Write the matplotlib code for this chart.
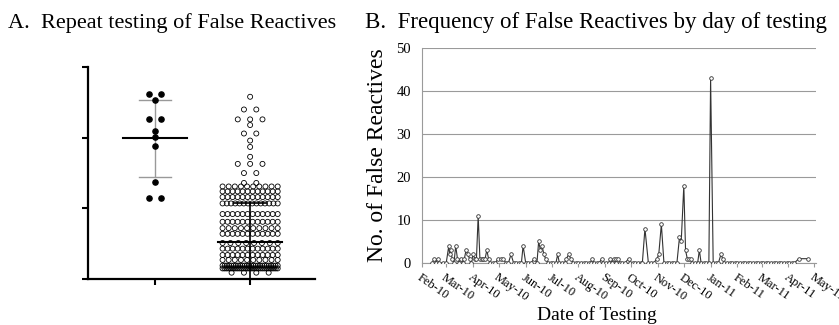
import numpy as np
import matplotlib
matplotlib.use('Agg')
import matplotlib.pyplot as plt
import matplotlib.dates as mdates

plt.rcParams['font.family'] = ['Liberation Serif', 'DejaVu Serif']

# Panel A: repeat testing values (no axis labels in the figure)
left_levels = [2.62, 2.53, 2.27, 2.09, 2.01, 1.88, 1.38, 1.15]
left_counts = [2, 1, 2, 1, 1, 1, 1, 2]
left_mean, left_sd_hi, left_sd_lo = 2.0, 2.54, 1.45

right_levels = [2.58, 2.40, 2.26, 2.18, 2.06, 1.96, 1.87, 1.73, 1.63, 1.50, 1.36,
                1.31, 1.24, 1.16, 1.07, 0.92, 0.81, 0.72, 0.64, 0.51, 0.43,
                0.34, 0.27, 0.19, 0.15, 0.09]
right_counts = [1, 2, 3, 1, 2, 1, 1, 1, 3, 2, 2,
                10, 12, 12, 14, 12, 12, 10, 12, 8, 12,
                12, 10, 26, 30, 4]
right_mean, right_sd_hi = 0.52, 1.07

# Panel B: false reactives per testing day (days after 1 Feb 2010)
days = [12, 14, 16, 18, 20, 24, 28, 31, 32, 33, 35, 37, 39, 41, 43, 45, 47, 49, 51, 53,
        55, 57, 59, 61, 63, 65, 67, 69, 71, 73, 75, 77, 79, 82, 85, 88, 91, 94, 97, 100,
        103, 106, 109, 112, 115, 117, 120, 123, 126, 130, 133, 135, 137, 139, 141, 143, 146, 149, 152, 155,
        157, 159, 162, 165, 167, 170, 172, 175, 178, 181, 184, 187, 190, 193, 195, 197, 199, 202, 205, 208,
        210, 213, 216, 218, 220, 222, 224, 225, 227, 229, 232, 235, 239, 241, 244, 247, 250, 253, 255, 258,
        262, 265, 268, 272, 274, 277, 280, 283, 286, 289, 292, 295, 298, 300, 303, 305, 307, 309, 311, 313,
        316, 319, 321, 323, 326, 329, 332, 334, 337, 340, 343, 346, 348, 350, 353, 356, 359, 362, 365, 368,
        371, 374, 377, 380, 383, 386, 389, 392, 395, 398, 401, 404, 407, 410, 413, 416, 419, 422, 425, 428,
        431, 436, 447]
counts = [0, 1, 0, 1, 0, 0, 0, 4, 2, 3, 1, 0, 4, 1, 0, 1, 0, 1, 3, 2,
          1, 0, 2, 1, 1, 11, 1, 1, 1, 1, 3, 1, 0, 0, 0, 1, 1, 1, 0, 0,
          2, 0, 0, 0, 0, 4, 0, 0, 0, 1, 0, 5, 3, 4, 2, 1, 0, 0, 0, 0,
          2, 0, 0, 0, 1, 2, 1, 0, 0, 0, 0, 0, 0, 0, 0, 1, 0, 0, 0, 1,
          0, 0, 0, 1, 0, 1, 0, 1, 1, 0, 0, 0, 1, 0, 0, 0, 0, 0, 0, 8,
          0, 0, 0, 1, 2, 9, 0, 0, 0, 0, 0, 0, 6, 5, 18, 3, 1, 1, 1, 0,
          0, 0, 3, 0, 0, 0, 0, 43, 0, 0, 0, 2, 1, 0, 0, 0, 0, 0, 0, 0,
          0, 0, 0, 0, 0, 0, 0, 0, 0, 0, 0, 0, 0, 0, 0, 0, 0, 0, 0, 0,
          0, 1, 1]


def swarm(center, levels, ns, step, half):
    xs, ys = [], []
    for v, n in zip(levels, ns):
        gap = step if n < 2 else min(step, 2 * half / (n - 1))
        xs.extend(center + (np.arange(n) - (n - 1) / 2) * gap)
        ys.extend([v] * n)
    return np.array(xs), np.array(ys)


fig = plt.figure(figsize=(8.39, 3.25), dpi=100)

# ---- Panel A ----
axA = fig.add_axes([0.105, 0.1415, 0.2706, 0.652])
lx, ly = swarm(1, left_levels, left_counts, 0.12, 0.29)
rx, ry = swarm(2, right_levels, right_counts, 0.13, 0.29)
axA.scatter(rx, ry, s=13, facecolor='none', edgecolor='black', linewidth=0.6, zorder=3, clip_on=False)
axA.scatter(lx, ly, s=14, color='black', zorder=3)

axA.plot([1, 1], [left_sd_lo, left_sd_hi], color='#999999', lw=1, zorder=2)
axA.plot([0.83, 1.17], [left_sd_hi] * 2, color='#999999', lw=1, zorder=2)
axA.plot([0.83, 1.17], [left_sd_lo] * 2, color='#999999', lw=1, zorder=2)
axA.plot([0.66, 1.34], [left_mean] * 2, color='black', lw=1.5, zorder=2)

axA.plot([2, 2], [0, right_sd_hi], color='black', lw=1.2, zorder=4)
axA.plot([1.83, 2.17], [right_sd_hi] * 2, color='black', lw=1.2, zorder=2)
axA.plot([1.66, 2.34], [right_mean] * 2, color='black', lw=1.5, zorder=4)

axA.set_xlim(0.295, 2.684)
axA.set_ylim(0, 3)
axA.set_xticks([1, 2])
axA.set_yticks([0, 1, 2, 3])
axA.set_xticklabels([])
axA.set_yticklabels([])
axA.tick_params(length=4, width=1.5, direction='out')
for s in ['top', 'right']:
    axA.spines[s].set_visible(False)
for s in ['left', 'bottom']:
    axA.spines[s].set_linewidth(1.6)

# ---- Panel B ----
axB = fig.add_axes([0.503, 0.1908, 0.4696, 0.6615])
dates = np.datetime64('2010-02-01') + np.array(days).astype('timedelta64[D]')
axB.plot(dates, counts, color='#333333', lw=0.8, marker='o', markersize=2.6,
         markerfacecolor='white', markeredgecolor='#333333', markeredgewidth=0.6, zorder=3)
axB.set_xlim(np.datetime64('2010-02-01'), np.datetime64('2011-05-03'))
axB.set_ylim(0, 50)
axB.set_yticks([0, 10, 20, 30, 40, 50])
axB.yaxis.grid(True, color='#9a9a9a', lw=0.8)
axB.set_axisbelow(True)
axB.xaxis.set_major_locator(mdates.MonthLocator())
axB.xaxis.set_major_formatter(mdates.DateFormatter('%b-%y'))
for lab in axB.get_xticklabels():
    lab.set_rotation(-35)
    lab.set_ha('left')
    lab.set_va('top')
    lab.set_rotation_mode('anchor')
axB.tick_params(axis='x', labelsize=9, length=3, color='#9a9a9a', pad=3)
axB.tick_params(axis='y', labelsize=10.5, length=0, pad=8)
for s in ['top', 'right']:
    axB.spines[s].set_visible(False)
for s in ['left', 'bottom']:
    axB.spines[s].set_color('#9a9a9a')
    axB.spines[s].set_linewidth(0.8)
axB.set_ylabel('No. of False Reactives', fontsize=17, labelpad=6)
axB.set_xlabel('Date of Testing', fontsize=14)
axB.xaxis.set_label_coords(0.444, -0.2)

fig.text(0.01, 0.914, 'A.  Repeat testing of False Reactives', fontsize=16, va='baseline')
fig.text(0.435, 0.914, 'B.  Frequency of False Reactives by day of testing', fontsize=16.5, va='baseline')

fig.savefig('out.png', dpi=100)
